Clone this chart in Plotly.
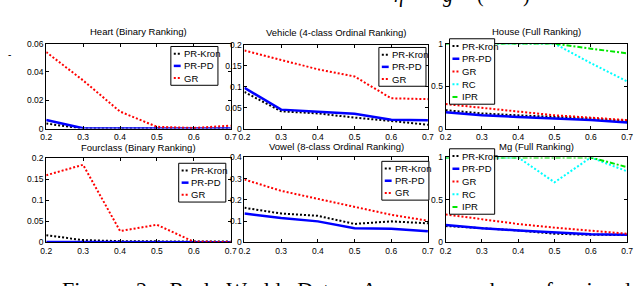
import plotly.graph_objects as go

# ---------------- data ----------------
x_levels = [0.2, 0.3, 0.4, 0.5, 0.6, 0.7]
x_tick_labels = ["0.2", "0.3", "0.4", "0.5", "0.6", "0.7"]

heart_pr_kron = [0.0035, 0.0, 0.0, 0.0, 0.0, 0.0]
heart_pr_pd = [0.006, 0.0002, 0.0, 0.0, 0.0, 0.0]
heart_gr = [0.054, 0.034, 0.012, 0.0012, 0.0004, 0.002]

vehicle_pr_kron = [0.087, 0.041, 0.036, 0.026, 0.018, 0.009]
vehicle_pr_pd = [0.097, 0.045, 0.040, 0.035, 0.021, 0.020]
vehicle_gr = [0.186, 0.164, 0.141, 0.124, 0.072, 0.070]

house_pr_kron = [0.216, 0.178, 0.155, 0.14, 0.12, 0.09]
house_pr_pd = [0.193, 0.155, 0.136, 0.12, 0.10, 0.072]
house_gr = [0.288, 0.242, 0.197, 0.156, 0.128, 0.099]
house_rc = [1.0, 1.0, 1.0, 1.0, 0.77, 0.555]
house_ipr = [1.0, 1.0, 1.0, 1.0, 0.94, 0.886]

fourclass_pr_kron = [0.017, 0.0055, 0.003, 0.002, 0.002, 0.002]
fourclass_pr_pd = [0.001, 0.001, 0.0008, 0.0005, 0.0005, 0.0005]
fourclass_gr = [0.160, 0.185, 0.027, 0.042, 0.0015, 0.001]

vowel_pr_kron = [0.163, 0.136, 0.125, 0.087, 0.099, 0.090]
vowel_pr_pd = [0.136, 0.115, 0.099, 0.067, 0.064, 0.053]
vowel_gr = [0.296, 0.243, 0.205, 0.168, 0.130, 0.102]

mg_pr_kron = [0.193, 0.167, 0.14, 0.102, 0.09, 0.087]
mg_pr_pd = [0.205, 0.167, 0.14, 0.117, 0.095, 0.09]
mg_gr = [0.33, 0.27, 0.216, 0.174, 0.14, 0.102]
mg_rc = [1.0, 1.0, 1.0, 0.708, 1.0, 0.837]
mg_ipr = [1.0, 1.0, 1.0, 1.0, 1.0, 0.886]

panel_titles = ["Heart (Binary Ranking)", "Vehicle (4-class Ordinal Ranking)", "House (Full Ranking)",
                "Fourclass (Binary Ranking)", "Vowel (8-class Ordinal Ranking)", "Mg (Full Ranking)"]

heart_y_ticks = [0, 0.02, 0.04, 0.06]
vehicle_y_ticks = [0, 0.05, 0.1, 0.15, 0.2]
house_y_ticks = [0, 0.5, 1]
fourclass_y_ticks = [0, 0.05, 0.1, 0.15, 0.2]
vowel_y_ticks = [0, 0.1, 0.2, 0.3, 0.4]
mg_y_ticks = [0, 0.5, 1]

caption_words = ["Figure", "2:", "Real", "World", "Data:", "Average", "number", "of", "misordering"]

# ---------------- styles ----------------
W, H = 640, 286
STYLE = {
    "PR-Kron": dict(color="#000000", dash="2px,2px", width=2),
    "PR-PD": dict(color="#0000ff", dash="solid", width=2.5),
    "GR": dict(color="#ff0000", dash="2px,2px", width=2),
    "RC": dict(color="#00ffff", dash="2px,2px", width=2),
    "IPR": dict(color="#00e600", dash="5px,2px,2px,2px", width=2),
}

panels = [
    dict(series={"PR-Kron": heart_pr_kron, "PR-PD": heart_pr_pd, "GR": heart_gr},
         yticks=heart_y_ticks, box=(41, 40, 229, 128), legend=(168, 43, 48), tshift=5),
    dict(series={"PR-Kron": vehicle_pr_kron, "PR-PD": vehicle_pr_pd, "GR": vehicle_gr},
         yticks=vehicle_y_ticks, box=(243, 41, 430, 128), legend=(380, 44, 48), tshift=5),
    dict(series={"PR-Kron": house_pr_kron, "PR-PD": house_pr_pd, "GR": house_gr,
                 "RC": house_rc, "IPR": house_ipr},
         yticks=house_y_ticks, box=(448, 40, 633, 128), legend=(452, 35, 46), tshift=5),
    dict(series={"PR-Kron": fourclass_pr_kron, "PR-PD": fourclass_pr_pd, "GR": fourclass_gr},
         yticks=fourclass_y_ticks, box=(41, 159, 229, 246), legend=(176, 164, 48), tshift=3),
    dict(series={"PR-Kron": vowel_pr_kron, "PR-PD": vowel_pr_pd, "GR": vowel_gr},
         yticks=vowel_y_ticks, box=(243, 158, 430, 246), legend=(383, 162, 48), tshift=3),
    dict(series={"PR-Kron": mg_pr_kron, "PR-PD": mg_pr_pd, "GR": mg_gr,
                 "RC": mg_rc, "IPR": mg_ipr},
         yticks=mg_y_ticks, box=(448, 158, 633, 246), legend=(452, 149, 46), tshift=3),
]


def px(x):
    return x / W


def py(y):
    return 1 - y / H


fig = go.Figure()
layout = dict(width=W, height=H, margin=dict(l=0, r=0, t=0, b=0), autosize=False,
              paper_bgcolor="white", plot_bgcolor="white", showlegend=False,
              font=dict(family="Liberation Sans, Arial, sans-serif", color="black"))
shapes, annotations = [], []
tickfont = dict(family="Liberation Sans, Arial, sans-serif", size=8.5, color="black")

for i, p in enumerate(panels):
    k = i + 1
    xa = "x" if k == 1 else f"x{k}"
    ya = "y" if k == 1 else f"y{k}"
    l, t, r, b = p["box"]
    for name, vals in p["series"].items():
        st = STYLE[name]
        fig.add_trace(go.Scatter(x=x_levels, y=vals, mode="lines", name=name,
                                 line=dict(color=st["color"], dash=st["dash"], width=st["width"]),
                                 xaxis=xa, yaxis=ya, showlegend=False, hoverinfo="skip"))
    ymax = p["yticks"][-1]
    common = dict(showline=True, linecolor="black", linewidth=1, mirror="ticks",
                  ticks="inside", ticklen=3, tickwidth=1, tickcolor="black",
                  showgrid=False, zeroline=False, tickfont=tickfont)
    layout["xaxis" if k == 1 else f"xaxis{k}"] = dict(
        domain=[px(l), px(r)], anchor=ya, range=[0.2, 0.7],
        tickvals=x_levels, ticktext=x_tick_labels, **common)
    layout["yaxis" if k == 1 else f"yaxis{k}"] = dict(
        domain=[py(b), py(t)], anchor=xa, range=[0, ymax],
        tickvals=p["yticks"], ticktext=[f"{v:g}" for v in p["yticks"]], **common)
    # title
    annotations.append(dict(text=panel_titles[i], x=px((l + r) / 2), y=py(t), xref="paper", yref="paper",
                            xanchor="center", yanchor="bottom", yshift=p["tshift"], showarrow=False,
                            font=dict(size=9.5, color="black")))
    # legend (boxed, matlab-style)
    lx, ly, lw = p["legend"]
    names = list(p["series"].keys())
    n = len(names)
    step = 12.6 if n == 3 else 13.2
    pad = 7.5
    bottom = ly + 2 * pad + (n - 1) * step
    shapes.append(dict(type="rect", xref="paper", yref="paper", x0=px(lx), x1=px(lx + lw),
                       y0=py(bottom), y1=py(ly), line=dict(color="black", width=1),
                       fillcolor="white", layer="above"))
    for j, name in enumerate(names):
        st = STYLE[name]
        ey = ly + pad + j * step
        shapes.append(dict(type="line", xref="paper", yref="paper", x0=px(lx + 3), x1=px(lx + 10),
                           y0=py(ey), y1=py(ey), layer="above",
                           line=dict(color=st["color"], dash=st["dash"], width=st["width"])))
        annotations.append(dict(text=name, x=px(lx + 11), y=py(ey), xref="paper", yref="paper",
                                xanchor="left", yanchor="middle", showarrow=False,
                                font=dict(size=9.5, color="black")))

# caption (justified text of the source page, cut off at bottom / right)
annotations.append(dict(text=" \u2002".join(caption_words), x=px(55), y=py(295), xref="paper", yref="paper",
                        xanchor="left", yanchor="middle", showarrow=False,
                        font=dict(family="Liberation Serif, Times New Roman, serif", size=22, color="black")))
annotations.append(dict(text="-", x=px(0), y=py(51), xref="paper", yref="paper",
                        xanchor="left", yanchor="middle", showarrow=False,
                        font=dict(size=10, color="black")))
for sym, xx in [("<i>η</i>", 401), ("<i>g</i>", 450), ("(", 484), (")", 530)]:
    annotations.append(dict(text=sym, x=px(xx), y=py(-10), xref="paper", yref="paper",
                            xanchor="center", yanchor="middle", showarrow=False,
                            font=dict(family="Liberation Serif, Times New Roman, serif", size=20, color="black")))

layout["shapes"] = shapes
layout["annotations"] = annotations
fig.update_layout(**layout)
fig.write_html("out.html", config={"displayModeBar": False, "staticPlot": True},
               post_script="document.body.style.margin='0';document.body.style.padding='0';")
